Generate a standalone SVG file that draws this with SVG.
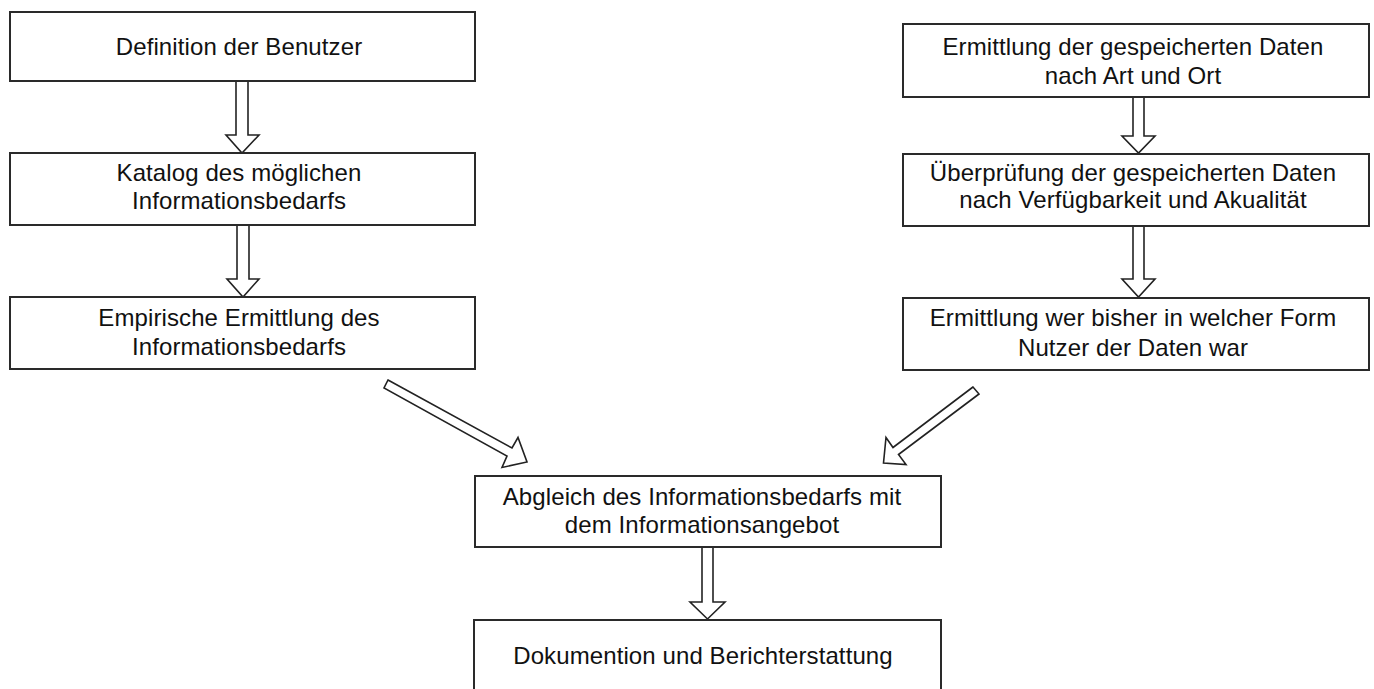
<svg xmlns="http://www.w3.org/2000/svg" width="1374" height="689" viewBox="0 0 1374 689">
<style>
.box{fill:#fff;stroke:#2a2a2a;stroke-width:2}
.arr{fill:#fff;stroke:#222;stroke-width:1.6;stroke-linejoin:miter}
text{font-family:"Liberation Sans",Arial,sans-serif;font-size:24px;letter-spacing:0.1px;fill:#111;text-anchor:middle}
</style>
<rect width="1374" height="689" fill="#fff"/>
<g id="connectors">
<polygon class="arr" points="236,81 248,81 248,135 259,135 242,153 226,135 236,135"/>
<polygon class="arr" points="237,225 249,225 249,279 259,279 243,297 227,279 237,279"/>
<polygon class="arr" points="1133,97 1144,97 1144,136 1155,136 1138.5,153 1122,136 1133,136"/>
<polygon class="arr" points="1133,226 1144,226 1144,279 1155,279 1138.5,297 1122,279 1133,279"/>
<polygon class="arr" points="702,547 713,547 713,602 725,602 707.5,619 690,602 702,602"/>
<polygon class="arr" points="388,380 512,448 518,437.5 527,462 502,467.5 507,456 384,388"/>
<polygon class="arr" points="973,387 893,447.5 886,437.5 883.5,463 906,464.5 898.5,454.5 979,394"/>
</g>
<g id="n1"><rect class="box" x="10" y="12" width="465" height="69"/><text x="239" y="55">Definition der Benutzer</text></g>
<g id="n2"><rect class="box" x="10" y="153" width="465" height="72"/><text x="239" y="181">Katalog des möglichen</text><text x="239" y="209">Informationsbedarfs</text></g>
<g id="n3"><rect class="box" x="10" y="297" width="465" height="72"/><text x="239" y="326">Empirische Ermittlung des</text><text x="239" y="355">Informationsbedarfs</text></g>
<g id="n4"><rect class="box" x="903" y="24" width="466" height="73"/><text x="1133" y="55">Ermittlung der gespeicherten Daten</text><text x="1133" y="84">nach Art und Ort</text></g>
<g id="n5"><rect class="box" x="903" y="154" width="466" height="72"/><text x="1133" y="181">Überprüfung der gespeicherten Daten</text><text x="1133" y="208">nach Verfügbarkeit und Akualität</text></g>
<g id="n6"><rect class="box" x="903" y="298" width="466" height="72"/><text x="1133" y="326">Ermittlung wer bisher in welcher Form</text><text x="1133" y="356">Nutzer der Daten war</text></g>
<g id="n7"><rect class="box" x="475" y="476" width="466" height="71"/><text x="702" y="505">Abgleich des Informationsbedarfs mit</text><text x="702" y="533">dem Informationsangebot</text></g>
<g id="n8"><rect class="box" x="474" y="620" width="467" height="80"/><text x="703" y="664">Dokumention und Berichterstattung</text></g>
</svg>
